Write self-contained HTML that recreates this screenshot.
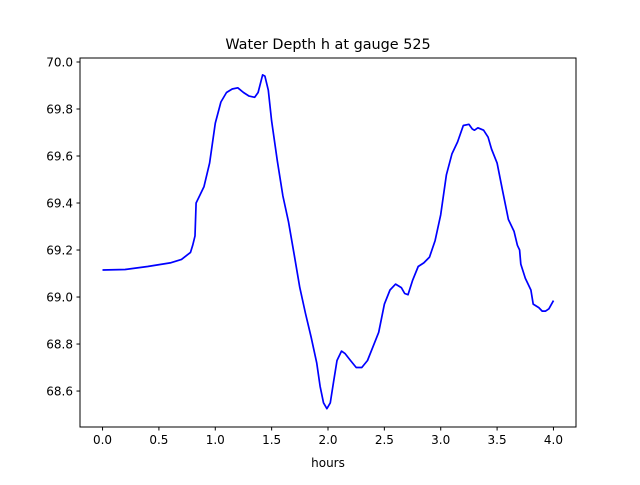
<!DOCTYPE html>
<html><head><meta charset="utf-8"><style>
body{margin:0;background:#fff;}
svg text{font-family:"DejaVu Sans","Liberation Sans",sans-serif;fill:#000;}
</style></head><body>
<svg id="chart" width="640" height="480" xmlns="http://www.w3.org/2000/svg">
<rect width="640" height="480" fill="#fff"/>
<text x="328" y="49" font-size="14.4" text-anchor="middle">Water Depth h at gauge 525</text>
<g id="axes"></g>
<rect x="80" y="58" width="496" height="369" fill="none" stroke="#000" stroke-width="1"/>
<text x="328" y="467" font-size="12" text-anchor="middle">hours</text>
</svg>
<script>
const hours=[0,0.2,0.4,0.6,0.7,0.78,0.8,0.82,0.83,0.86,0.9,0.95,1.0,1.05,1.1,1.15,1.2,1.25,1.3,1.35,1.38,1.42,1.44,1.47,1.5,1.55,1.6,1.65,1.7,1.75,1.8,1.85,1.9,1.93,1.96,1.99,2.02,2.05,2.08,2.12,2.15,2.2,2.25,2.3,2.35,2.4,2.45,2.5,2.55,2.6,2.65,2.68,2.71,2.75,2.8,2.85,2.9,2.95,3.0,3.05,3.1,3.15,3.2,3.25,3.28,3.3,3.33,3.38,3.42,3.45,3.5,3.55,3.6,3.65,3.68,3.7,3.71,3.75,3.8,3.82,3.87,3.9,3.93,3.96,4.0];
const depth=[69.115,69.117,69.13,69.145,69.16,69.19,69.22,69.26,69.40,69.43,69.47,69.57,69.74,69.83,69.87,69.885,69.89,69.87,69.855,69.85,69.87,69.945,69.94,69.88,69.75,69.58,69.43,69.32,69.18,69.04,68.93,68.83,68.72,68.62,68.55,68.525,68.55,68.64,68.73,68.77,68.76,68.73,68.70,68.70,68.73,68.79,68.85,68.97,69.03,69.055,69.04,69.015,69.01,69.07,69.13,69.145,69.17,69.24,69.35,69.52,69.61,69.66,69.73,69.735,69.715,69.71,69.72,69.71,69.68,69.63,69.57,69.45,69.33,69.28,69.22,69.20,69.14,69.08,69.03,68.97,68.955,68.94,68.94,68.95,68.985];
const xTicks=[0,0.5,1,1.5,2,2.5,3,3.5,4];
const xTickLabels=["0.0","0.5","1.0","1.5","2.0","2.5","3.0","3.5","4.0"];
const yTicks=[68.6,68.8,69.0,69.2,69.4,69.6,69.8,70.0];
const yTickLabels=["68.6","68.8","69.0","69.2","69.4","69.6","69.8","70.0"];
const NS="http://www.w3.org/2000/svg";
const L=80,R=576,T=58,B=427,xmin=-0.2,xmax=4.2,ymin=68.447,ymax=70.017;
function sx(v){return L+(v-xmin)/(xmax-xmin)*(R-L);}
function sy(v){return B-(v-ymin)/(ymax-ymin)*(B-T);}
const g=document.getElementById('axes');
function mk(tag,a){const e=document.createElementNS(NS,tag);for(const k in a)e.setAttribute(k,a[k]);g.appendChild(e);return e;}
xTicks.forEach((v,i)=>{
  const x=sx(v);
  const t=mk('line',{x1:x,x2:x,y1:B,y2:B+3.5,stroke:'#000'});
  
  
  const l=mk('text',{x:x,y:B+17,'font-size':'12','text-anchor':'middle'});
  l.textContent=xTickLabels[i];
  
  
});
yTicks.forEach((v,i)=>{
  const y=sy(v);
  const t=mk('line',{x1:L-3.5,x2:L,y1:y,y2:y,stroke:'#000'});
  
  
  const l=mk('text',{x:L-7,y:y+4.5,'font-size':'12','text-anchor':'end'});
  l.textContent=yTickLabels[i];
  
  
});
const p=mk('polyline',{points:hours.map((h,i)=>sx(h).toFixed(1)+','+sy(depth[i]).toFixed(1)).join(' '),fill:'none',stroke:'#0000ff','stroke-width':'1.7','stroke-linejoin':'round'});


</script>
</body></html>
